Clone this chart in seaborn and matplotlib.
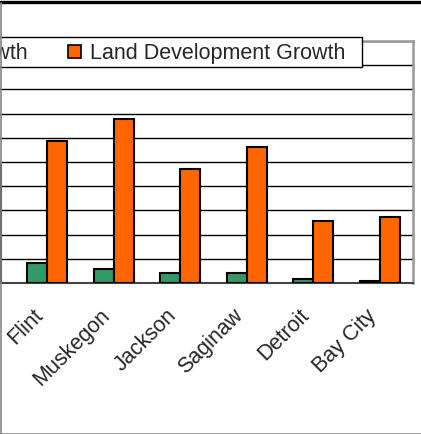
import numpy as np
import pandas as pd
import matplotlib
matplotlib.use("Agg")
import matplotlib.pyplot as plt
from matplotlib.lines import Line2D
from matplotlib.patches import Patch, Rectangle
import matplotlib.transforms as mtransforms
import seaborn as sns

# first category is cut off at the left edge of the picture (only its orange bar edge shows)
cities = ["", "Flint", "Muskegon", "Jackson", "Saginaw", "Detroit", "Bay City"]
pop_growth = [np.nan, 0.81, 0.57, 0.40, 0.40, 0.15, 0.07]
land_growth = [4.88, 5.86, 6.76, 4.70, 5.61, 2.55, 2.71]
series_names = ["Population Growth", "Land Development Growth"]
colors = ["#339966", "#FF6600"]

df = pd.DataFrame({
    "city": cities * 2,
    "value": pop_growth + land_growth,
    "series": [series_names[0]] * len(cities) + [series_names[1]] * len(cities),
})

sns.set_style("white")
plt.rcParams["font.family"] = ["Liberation Sans", "DejaVu Sans"]

W, H = 421, 434
fig = plt.figure(figsize=(W / 100, H / 100), dpi=100)
# plot area: left edge falls outside the picture
left_px, right_px, top_px, base_px = -52.3, 413, 41, 283
ax = fig.add_axes([left_px / W, 1 - base_px / H, (right_px - left_px) / W, (base_px - top_px) / H])

sns.barplot(data=df, x="city", y="value", hue="series", order=cities,
            hue_order=series_names, palette=colors, saturation=1, width=0.6, gap=0,
            edgecolor="black", linewidth=1.5, errorbar=None, ax=ax, zorder=3)

ax.set_xlim(-0.5, len(cities) - 0.5)
ax.set_ylim(0, 10)
ax.set_yticks(range(0, 11))
ax.yaxis.grid(True, color="black", linewidth=1, zorder=0)
ax.set_axisbelow(True)
ax.set_xlabel("")
ax.set_ylabel("")
ax.set_yticklabels([])

ax.set_xticks(range(len(cities)))
ax.set_xticklabels(cities, rotation=45, ha="right", rotation_mode="anchor",
                   va="center", fontsize=15.5)
ax.tick_params(axis="x", which="major", length=0, pad=21.5)
shift = mtransforms.ScaledTranslation(-7 / 100, 0, fig.dpi_scale_trans)
for lab in ax.get_xticklabels():
    lab.set_transform(lab.get_transform() + shift)
ax.set_xticks(np.arange(-0.5, len(cities), 1), minor=True)
ax.tick_params(axis="x", which="minor", length=4.5, width=1.2, color="#555555", direction="out")
ax.tick_params(axis="y", length=0)

for s in ["top", "right"]:
    ax.spines[s].set_color("#999999")
    ax.spines[s].set_linewidth(1.8)
ax.spines["bottom"].set_color("#444444")
ax.spines["bottom"].set_linewidth(1.5)
ax.spines["left"].set_color("black")

# legend box (drawn separately so its padding matches the original)
ax.get_legend().remove()
box = Rectangle((-5 / W, 1 - 67 / H), 367 / W, 30 / H, transform=fig.transFigure,
                facecolor="white", edgecolor="black", linewidth=1, zorder=9)
fig.add_artist(box)
handles = [Patch(facecolor=c, edgecolor="black", linewidth=1.2) for c in colors]
leg = fig.legend(handles, series_names, ncol=2, loc="center right",
                 bbox_to_anchor=(345 / W, 1 - 53.5 / H), bbox_transform=fig.transFigure,
                 fontsize=15.5, frameon=False,
                 handlelength=0.6, handleheight=0.6, handletextpad=0.4,
                 columnspacing=1.9, borderpad=0, borderaxespad=0)
leg.set_zorder(10)

# outer chart border
fig.add_artist(Line2D([0, 1], [1 - 1.5 / H, 1 - 1.5 / H], color="black", lw=2.4, transform=fig.transFigure))
fig.add_artist(Line2D([0.5 / W, 0.5 / W], [0, 1 - 3 / H], color="#888888", lw=1.2, transform=fig.transFigure, zorder=11))
fig.add_artist(Line2D([0, 1], [0.5 / H, 0.5 / H], color="#888888", lw=1.2, transform=fig.transFigure))

fig.savefig("out.png", dpi=100)
